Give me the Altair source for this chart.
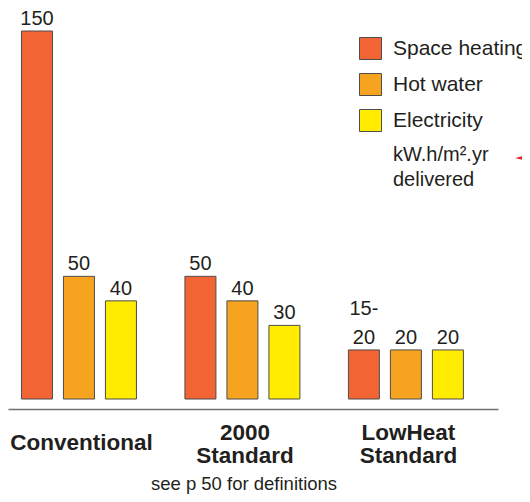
import altair as alt
import pandas as pd

# ---- data ----
groups = ["Conventional", "2000\nStandard", "LowHeat\nStandard"]
series = ["Space heating", "Hot water", "Electricity"]
space_heating = [150, 50, 20]
hot_water = [50, 40, 20]
electricity = [40, 30, 20]
space_labels = ["150", "50", "20"]
space_prefix = ["", "", "15-"]
hot_labels = ["50", "40", "20"]
elec_labels = ["40", "30", "20"]
colors = ["#F26433", "#F6A31F", "#FFEC00"]
unit_text = ["kW.h/m\u00b2.yr\ndelivered"]
footnote = "see p 50 for definitions"

rows = []
for s, vals, labs, pre in zip(series, [space_heating, hot_water, electricity],
                              [space_labels, hot_labels, elec_labels],
                              [space_prefix, ["", "", ""], ["", "", ""]]):
    for g, v, l, p in zip(groups, vals, labs, pre):
        rows.append({"group": g, "series": s, "value": v, "label": l, "prefix": p})
df = pd.DataFrame(rows)

FONT = "Liberation Sans"
TXT = "#231f20"

x_enc = alt.X(
    "group:N", sort=groups,
    scale=alt.Scale(paddingInner=0.2966, paddingOuter=0.147, align=0.28),
    axis=alt.Axis(
        title=footnote, domain=True, domainColor="#707070", domainWidth=1.5,
        ticks=False, labelAngle=0,
        labelExpr="split(datum.label, '\\n')",
        labelFont=FONT, labelFontSize=22.5, labelFontWeight="bold",
        labelColor=TXT, labelBaseline="top", labelLineHeight=23.3,
        labelPadding={"condition": {"test": "datum.value == 'Conventional'", "value": 22},
                      "value": 12.6},
        labelOffset=2.5,
        offset=10, labelLimit=300,
        titleFont=FONT, titleFontSize=18.5, titleFontWeight="normal",
        titleColor=TXT, titleX=235.5, titleY=80.5, titleAlign="center",
        titleBaseline="alphabetic",
    ),
)
xo_enc = alt.XOffset("series:N", sort=series,
                     scale=alt.Scale(paddingInner=0.262, paddingOuter=0))
y_enc = alt.Y("value:Q", scale=alt.Scale(domain=[0, 150], nice=False, zero=True),
              axis=None)

base = alt.Chart(df)

bars = base.mark_bar(stroke="#4d4d4d", strokeWidth=1).encode(
    x=x_enc, xOffset=xo_enc, y=y_enc,
    color=alt.Color(
        "series:N", sort=series,
        scale=alt.Scale(domain=series, range=colors),
        legend=alt.Legend(
            title=None, orient="none", legendX=351, legendY=6,
            symbolType="square", symbolSize=484,
            symbolStrokeColor="#4d4d4d", symbolStrokeWidth=1,
            symbolOpacity=1,
            labelFont=FONT, labelFontSize=21, labelColor=TXT,
            labelOffset=11, rowPadding=9, padding=0, labelLimit=300,
        ),
    ),
)

labels = base.mark_text(
    baseline="alphabetic", dy=-6, fontSize=20, font=FONT, color=TXT,
).encode(x=x_enc, xOffset=xo_enc, y=y_enc, text="label:N")

prefixes = base.mark_text(
    baseline="alphabetic", dy=-35, fontSize=20, font=FONT, color=TXT,
).encode(x=x_enc, xOffset=xo_enc, y=y_enc, text="prefix:N")

unit = alt.Chart(pd.DataFrame({"t": unit_text})).mark_text(
    align="left", baseline="top", fontSize=20, font=FONT, color=TXT,
    lineBreak="\n", lineHeight=25,
).encode(x=alt.value(385), y=alt.value(114), text="t:N")

arrow = alt.Chart(pd.DataFrame({"a": [1]})).mark_point(
    shape="M1,-0.5L-1,0L1,0.5Z", filled=True, color="#E8202A", opacity=1,
    size=100, strokeWidth=0,
).encode(x=alt.value(512), y=alt.value(127))

chart = alt.layer(bars, labels, prefixes, unit, arrow).properties(
    width=490, height=368,
    autosize=alt.AutoSizeParams(type="none"),
    padding={"left": 0, "top": 23, "right": 24, "bottom": 95},
    background="white",
).configure_view(stroke=None)

chart.save("out.html", embed_options={"renderer": "svg", "actions": False})
